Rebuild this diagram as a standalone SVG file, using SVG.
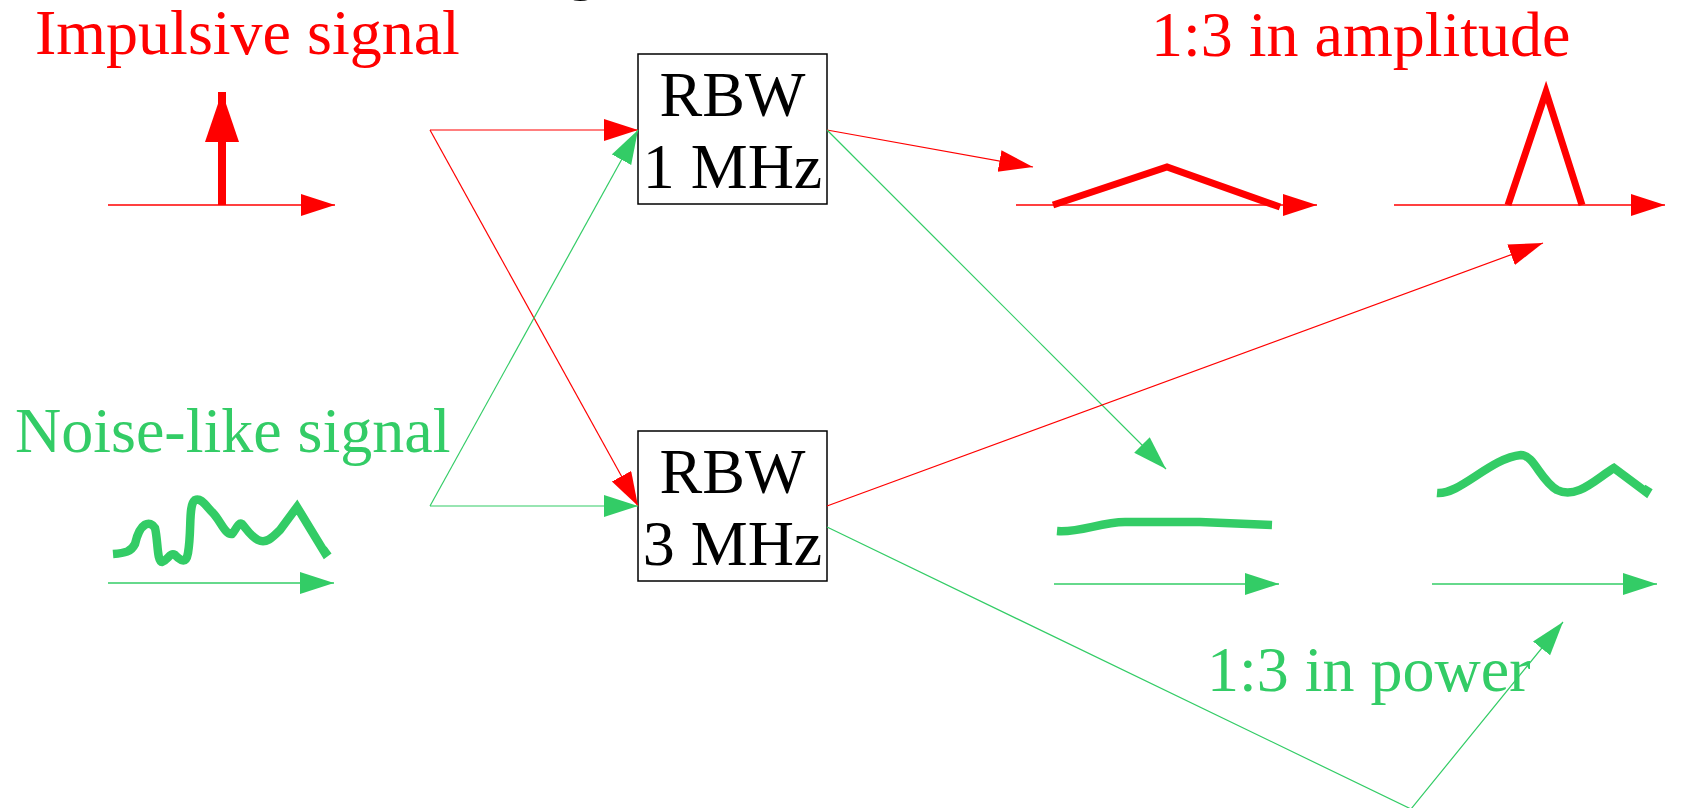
<svg xmlns="http://www.w3.org/2000/svg" width="1695" height="808" viewBox="0 0 1695 808">
<style>
.t{font-family:"Liberation Serif","Times New Roman",serif;font-size:64px}
.r{fill:#ff0000}
.g{fill:#33cc66}
.k{fill:#000}
.lr{stroke:#ff0000;fill:none}
.lg{stroke:#33cc66;fill:none}
.thin{stroke-width:1.2}
.ax{stroke-width:1.5}
.thick{stroke-width:7;stroke-linejoin:miter}
.box{fill:#fff;stroke:#000;stroke-width:1.5}
</style>
<defs>
<marker id="ar" markerUnits="userSpaceOnUse" markerWidth="36" markerHeight="24" refX="34" refY="11" orient="auto"><path d="M0,0 L34,11 L0,22 z" fill="#ff0000"/></marker>
<marker id="ag" markerUnits="userSpaceOnUse" markerWidth="36" markerHeight="24" refX="34" refY="11" orient="auto"><path d="M0,0 L34,11 L0,22 z" fill="#33cc66"/></marker>
<marker id="abig" markerUnits="userSpaceOnUse" markerWidth="52" markerHeight="36" refX="50" refY="17" orient="auto"><path d="M0,0 L50,17 L0,34 z" fill="#ff0000"/></marker>
</defs>
<text class="t k" x="565" y="-13" font-size="72">g</text>
<g id="impulsive">
<text class="t r" x="35" y="54">Impulsive signal</text>
<line class="lr ax" x1="108" y1="205" x2="335" y2="205" marker-end="url(#ar)"/>
<line x1="222" y1="205" x2="222" y2="92" stroke="#ff0000" stroke-width="8" marker-end="url(#abig)"/>
</g>
<g id="noise">
<text class="t g" x="15" y="452">Noise-like signal</text>
<line class="lg ax" x1="108" y1="583" x2="334" y2="583" marker-end="url(#ag)"/>
<path class="lg" stroke-width="8.5" d="M113,554 C125,553 131,552 135,544 C140,522 150,520 155,528 C158,540 157,562 162,562 C168,560 170,552 175,555 C180,560 186,565 188,553 C192,530 188,505 195,500 C201,497 206,506 213,513 C220,520 225,535 232,534 C236,530 238,522 242,524 C246,528 250,536 258,540 C266,544 272,538 280,530 L297,507 L325,553 L329,550"/>
</g>
<g id="rbw1">
<rect class="box" x="638" y="54" width="189" height="150"/>
<text class="t k" x="732.5" y="116" text-anchor="middle">RBW</text>
<text class="t k" x="732.5" y="188" text-anchor="middle">1 MHz</text>
</g>
<g id="rbw3">
<rect class="box" x="638" y="431" width="189" height="150"/>
<text class="t k" x="732.5" y="493" text-anchor="middle">RBW</text>
<text class="t k" x="732.5" y="565" text-anchor="middle">3 MHz</text>
</g>
<g id="out-amp-1">
<line class="lr ax" x1="1016" y1="205" x2="1317" y2="205" marker-end="url(#ar)"/>
<polyline class="lr thick" points="1053,205 1167,167 1280,207"/>
</g>
<g id="out-amp-3">
<text class="t r" x="1151" y="56" font-size="63">1:3 in amplitude</text>
<line class="lr ax" x1="1394" y1="205" x2="1665" y2="205" marker-end="url(#ar)"/>
<polyline class="lr thick" points="1508,205 1546,92 1582,205"/>
</g>
<g id="out-pow-1">
<line class="lg ax" x1="1054" y1="584" x2="1279" y2="584" marker-end="url(#ag)"/>
<path class="lg" stroke-width="8.5" d="M1057,531 C1080,533 1100,522 1125,522 L1200,522 L1272,525"/>
</g>
<g id="out-pow-3">
<text class="t g" x="1207" y="691" font-size="61">1:3 in power</text>
<line class="lg ax" x1="1432" y1="584" x2="1657" y2="584" marker-end="url(#ag)"/>
<path class="lg" stroke-width="8.5" d="M1437,493 C1460,495 1490,458 1521,455 C1534,455 1540,480 1557,490 C1577,500 1597,478 1614,468 L1646,492 L1649,487"/>
</g>
<g id="connectors">
<line class="lr thin" x1="430" y1="130" x2="638" y2="130" marker-end="url(#ar)"/>
<line class="lr thin" x1="430" y1="130" x2="638" y2="506" marker-end="url(#ar)"/>
<line class="lg thin" x1="430" y1="506" x2="638" y2="506" marker-end="url(#ag)"/>
<line class="lg thin" x1="430" y1="506" x2="638" y2="130" marker-end="url(#ag)"/>
<line class="lr thin" x1="827" y1="130" x2="1033" y2="167" marker-end="url(#ar)"/>
<line class="lg thin" x1="827" y1="130" x2="1166" y2="469" marker-end="url(#ag)"/>
<line class="lr thin" x1="827" y1="506" x2="1543" y2="243" marker-end="url(#ar)"/>
<polyline class="lg thin" points="827,527 1411,809 1563,622" marker-end="url(#ag)"/>
</g>
</svg>
